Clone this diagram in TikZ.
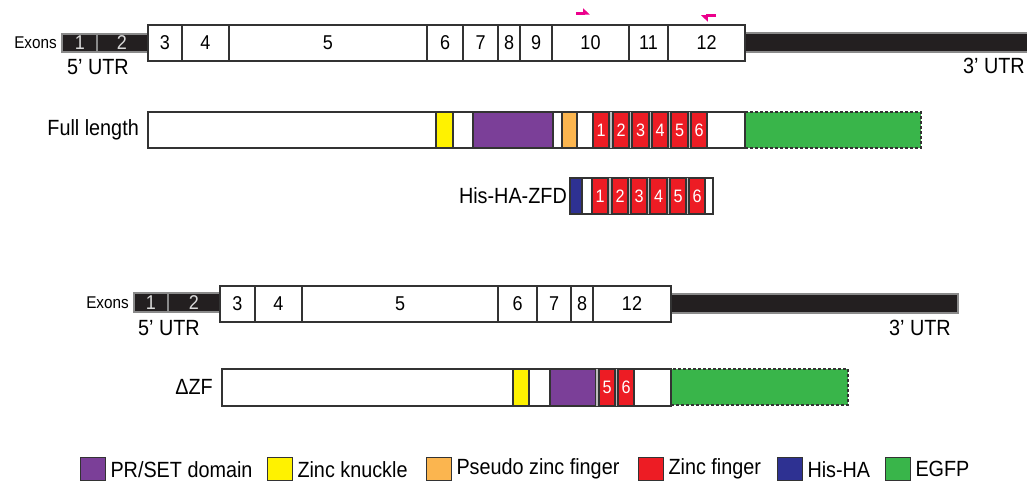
\documentclass[tikz,border=0pt]{standalone}
\usepackage{fontspec}
\setmainfont{Liberation Sans}
\newfontfamily\condfont[FakeStretch=0.9]{Liberation Sans}
\usetikzlibrary{arrows.meta}
\definecolor{outl}{HTML}{333333}
\definecolor{utr}{HTML}{231F20}
\definecolor{utredge}{HTML}{8A8A8A}
\definecolor{zfgap}{HTML}{BDBDBD}
\definecolor{prset}{HTML}{7B3F98}
\definecolor{zknuck}{HTML}{FFF200}
\definecolor{pseudo}{HTML}{FBB54F}
\definecolor{zfred}{HTML}{ED1C24}
\definecolor{hisha}{HTML}{2E3192}
\definecolor{egfp}{HTML}{39B54A}
\definecolor{primerc}{HTML}{EC008C}
\newcommand\fsz[1]{\condfont\fontsize{#1}{#1}\selectfont}
% segment box: [style] name x-left x-right y-top text
\newcommand\seg[6][]{\node[segbase,#1,minimum width={#4-#3}] (#2) at (#3,#5) {#6};}
\begin{document}
\begin{tikzpicture}[x=1pt,y=-1pt,
  segbase/.style={anchor=north west,inner sep=0pt,outer sep=0pt,minimum height=36pt,
                  draw=outl,line width=1.3pt,fill=white},
  exonnum/.style={font=\fsz{20}},
  utrbox/.style={fill=utr,draw=utredge,line width=1.6pt,minimum height=18pt},
  utrnum/.style={text=white!85!black,font=\fsz{20}},
  utrbar/.style={fill=utr,draw=utredge,line width=1.2pt,minimum height=19pt},
  zf/.style={fill=zfred,text=white,font=\fsz{18}},
  gapfill/.style={draw=none,fill=zfgap},
  green/.style={fill=egfp,dashed,dash pattern=on 3pt off 2pt},
  lbl/.style={font=\fsz{22},inner sep=0pt},
  smalllbl/.style={font=\fsz{17},inner sep=0pt},
  legsq/.style={anchor=north west,draw=outl,line width=1.3pt,minimum width=25pt,
                minimum height=23pt,inner sep=0pt},
  legtxt/.style={anchor=west,font=\fsz{22},inner sep=0pt},
  primer/.style={draw=primerc,line width=3pt,-{Triangle[harpoon,length=6pt,width=11pt]}}
]
\useasboundingbox (0,0) rectangle (1027,481);

% ---------- full-length gene: exons ----------
\seg[utrbox]{u5a}{62}{148}{34}{}
\draw[utredge,line width=1.4pt] (97,34) -- (97,52);
\node[utrnum] (n1) at (80,43) {1};
\node[utrnum] (n2) at (122,43) {2};
\seg[utrbar]{u3a}{745}{1032}{33}{}
\seg[exonnum]{a3}{148}{182}{25}{3}
\seg[exonnum]{a4}{182}{229}{25}{4}
\seg[exonnum]{a5}{229}{427}{25}{5}
\seg[exonnum]{a6}{427}{463}{25}{6}
\seg[exonnum]{a7}{463}{498}{25}{7}
\seg[exonnum]{a8}{498}{520}{25}{8}
\seg[exonnum]{a9}{520}{552}{25}{9}
\seg[exonnum]{a10}{552}{629}{25}{10}
\seg[exonnum]{a11}{629}{668}{25}{11}
\seg[exonnum]{a12}{668}{745}{25}{12}
\node[smalllbl,anchor=east] (exa) at (57,43) {Exons};
\node[lbl] (u5la) at (98,67) {5’ UTR};
\node[lbl] (u3la) at (994,66) {3’ UTR};

% primers
\coordinate (pf1) at (576,14);
\coordinate (pf2) at (590,14);
\coordinate (pr1) at (716,16);
\coordinate (pr2) at (701,16);
\draw[primer] (pf1) -- (pf2);
\draw[primer] (pr1) -- (pr2);

% ---------- full-length protein ----------
\node[lbl,anchor=east] (fll) at (139,130) {Full length};
\seg[green]{fgfp}{745}{921}{112}{}
\seg{fbody}{148}{745}{112}{}
\seg[fill=zknuck]{fzk}{436}{453}{112}{}
\seg[fill=prset]{fpr}{473}{553}{112}{}
\seg[fill=pseudo]{fps}{562}{577}{112}{}
\seg[gapfill]{fgap}{593}{707}{112}{}
\seg[zf]{fz1}{593}{609}{112}{1}
\seg[zf]{fz2}{613}{629}{112}{2}
\seg[zf]{fz3}{632}{649}{112}{3}
\seg[zf]{fz4}{652}{668}{112}{4}
\seg[zf]{fz5}{671}{688}{112}{5}
\seg[zf]{fz6}{691}{707}{112}{6}

% ---------- His-HA-ZFD ----------
\node[lbl,anchor=east] (hhl) at (567,196) {His-HA-ZFD};
\seg{hbody}{570}{713}{178}{}
\seg[fill=hisha]{hha}{570}{582}{178}{}
\seg[gapfill]{hgap}{592}{705}{178}{}
\seg[zf]{hz1}{592}{608}{178}{1}
\seg[zf]{hz2}{612}{628}{178}{2}
\seg[zf]{hz3}{631}{647}{178}{3}
\seg[zf]{hz4}{650}{667}{178}{4}
\seg[zf]{hz5}{670}{686}{178}{5}
\seg[zf]{hz6}{689}{705}{178}{6}

% ---------- deletion allele: exons ----------
\seg[utrbox,minimum height=19pt]{u5b}{134}{220}{293}{}
\draw[utredge,line width=1.4pt] (168,293) -- (168,312);
\node[utrnum] (m1) at (151,303) {1};
\node[utrnum] (m2) at (194,303) {2};
\seg[utrbar]{u3b}{671}{958}{294}{}
\seg[exonnum]{b3}{220}{255}{286}{3}
\seg[exonnum]{b4}{255}{302}{286}{4}
\seg[exonnum]{b5}{302}{498}{286}{5}
\seg[exonnum]{b6}{498}{537}{286}{6}
\seg[exonnum]{b7}{537}{571}{286}{7}
\seg[exonnum]{b8}{571}{593}{286}{8}
\seg[exonnum]{b12}{593}{671}{286}{12}
\node[smalllbl,anchor=east] (exb) at (129,303) {Exons};
\node[lbl] (u5lb) at (169,328) {5’ UTR};
\node[lbl] (u3lb) at (920,328) {3’ UTR};

% ---------- ΔZF protein ----------
\node[lbl,anchor=east] (dzl) at (213,387) {ΔZF};
\seg[green]{dgfp}{671}{848}{369}{}
\seg[minimum height=37pt]{dbody}{222}{671}{369}{}
\seg[fill=zknuck,minimum height=37pt]{dzk}{513}{529}{369}{}
\seg[fill=prset,minimum height=37pt]{dpr}{550}{596}{369}{}
\seg[gapfill,minimum height=37pt]{dgap}{596}{634}{369}{}
\seg[zf,minimum height=37pt]{dz5}{599}{615}{369}{5}
\seg[zf,minimum height=37pt]{dz6}{618}{634}{369}{6}

% ---------- legend ----------
\node[legsq,fill=prset] (l1) at (80,457) {};
\node[legtxt] (t1) at ([xshift=4pt]l1.east) {PR/SET domain};
\node[legsq,fill=zknuck] (l2) at (267,457) {};
\node[legtxt] (t2) at ([xshift=4pt]l2.east) {Zinc knuckle};
\node[legsq,fill=pseudo] (l3) at (426,457) {};
\node[legtxt] (t3) at ([xshift=4pt]l3.east) {Pseudo zinc finger};
\node[legsq,fill=zfred] (l4) at (638,457) {};
\node[legtxt] (t4) at ([xshift=4pt]l4.east) {Zinc finger};
\node[legsq,fill=hisha] (l5) at (777,457) {};
\node[legtxt] (t5) at ([xshift=4pt]l5.east) {His-HA};
\node[legsq,fill=egfp] (l6) at (885,457) {};
\node[legtxt] (t6) at ([xshift=4pt]l6.east) {EGFP};
\end{tikzpicture}
\end{document}
